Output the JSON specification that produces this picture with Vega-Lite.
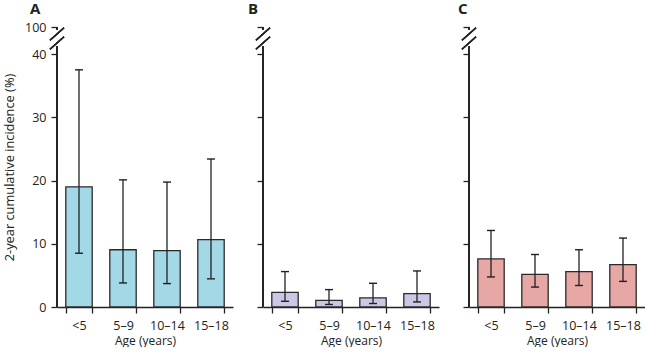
{
  "$schema": "https://vega.github.io/schema/vega-lite/v6.json",
  "padding": {"left": 3, "top": 2, "right": 0, "bottom": 0},
  "config": {
    "view": {"stroke": null},
    "font": "Open Sans",
    "axis": {"labelFont": "Open Sans", "titleFont": "Open Sans", "labelColor": "#222", "titleColor": "#222", "tickColor": "#222", "domainColor": "#222", "grid": false}
  },
  "spacing": 1,
  "hconcat": [
    {
      "title": {"text": "A", "anchor": "start", "frame": "group", "dx": -27, "offset": 4, "fontSize": 15, "fontWeight": "bold", "font": "Open Sans", "color": "#222"},
      "width": 176,
      "height": 280,
      "data": {"values": [
        {"age": "<5", "value": 19.0, "lo": 8.5, "hi": 37.5},
        {"age": "5–9", "value": 9.05, "lo": 3.8, "hi": 20.1},
        {"age": "10–14", "value": 8.9, "lo": 3.7, "hi": 19.75},
        {"age": "15–18", "value": 10.65, "lo": 4.45, "hi": 23.4}
      ]},
      "layer": [
        {
          "encoding": {
            "x": {"field": "age", "type": "nominal", "sort": ["<5", "5–9", "10–14", "15–18"], "scale": {"paddingInner": 0.4, "paddingOuter": 0.2},
              "axis": {"title": "Age (years)", "titleFontSize": 12, "titleFontWeight": "normal", "titlePadding": 4, "labelFontSize": 12.5, "labelAngle": 0, "labelPadding": 6, "tickBand": "extent", "tickSize": 6, "tickWidth": 1.3, "domainWidth": 1.3}},
            "y": {"field": "value", "type": "quantitative", "scale": {"domain": [0, 40, 100], "range": [280, 27, 0], "nice": false, "zero": false},
              "axis": {"values": [0, 10, 20, 30, 40, 100], "domain": false, "title": "2-year cumulative incidence (%)", "titleFontSize": 12.8, "titleFontWeight": "normal", "titlePadding": 8, "labelFontSize": 12.5, "labelPadding": 5, "tickSize": 6, "tickWidth": 1.3}}
          },
          "layer": [
            {"mark": {"type": "bar", "fill": "#a3d8e7", "stroke": "#2a2a2a", "strokeWidth": 1.3}},
            {"mark": {"type": "rule", "color": "#222", "strokeWidth": 1.3}, "encoding": {"y": {"field": "lo", "type": "quantitative"}, "y2": {"field": "hi"}}},
            {"mark": {"type": "tick", "color": "#222", "thickness": 1.4, "size": 8, "opacity": 1}, "encoding": {"y": {"field": "lo", "type": "quantitative"}}},
            {"mark": {"type": "tick", "color": "#222", "thickness": 1.4, "size": 8, "opacity": 1}, "encoding": {"y": {"field": "hi", "type": "quantitative"}}}
          ]
        },
        {
          "encoding": {
            "x": {"datum": 0, "type": "quantitative", "scale": {"domain": [0, 1]}, "axis": null}
          },
          "layer": [
            {"mark": {"type": "rule", "color": "#222", "strokeWidth": 1.3}, "encoding": {"y": {"datum": 0, "type": "quantitative"}, "y2": {"datum": 57.8}}},
            {"mark": {"type": "rule", "color": "#222", "strokeWidth": 1.3}, "encoding": {"y": {"datum": 93.3, "type": "quantitative"}, "y2": {"datum": 100}}},
            {"mark": {"type": "point", "shape": "M-1,0.9L1,-0.9", "size": 196, "filled": false, "stroke": "#222", "strokeWidth": 1.3, "opacity": 1}, "encoding": {"y": {"datum": 84.4, "type": "quantitative"}}},
            {"mark": {"type": "point", "shape": "M-1,0.9L1,-0.9", "size": 196, "filled": false, "stroke": "#222", "strokeWidth": 1.3, "opacity": 1}, "encoding": {"y": {"datum": 64.4, "type": "quantitative"}}}
          ]
        }
      ],
      "resolve": {"scale": {"x": "independent"}, "axis": {"x": "independent"}}
    },
    {
      "title": {"text": "B", "anchor": "start", "frame": "group", "dx": -15, "offset": 4, "fontSize": 15, "fontWeight": "bold", "font": "Open Sans", "color": "#222"},
      "width": 176,
      "height": 280,
      "data": {"values": [
        {"age": "<5", "value": 2.3, "lo": 0.9, "hi": 5.6},
        {"age": "5–9", "value": 1.05, "lo": 0.4, "hi": 2.75},
        {"age": "10–14", "value": 1.45, "lo": 0.55, "hi": 3.75},
        {"age": "15–18", "value": 2.1, "lo": 0.8, "hi": 5.7}
      ]},
      "layer": [
        {
          "encoding": {
            "x": {"field": "age", "type": "nominal", "sort": ["<5", "5–9", "10–14", "15–18"], "scale": {"paddingInner": 0.4, "paddingOuter": 0.2},
              "axis": {"title": "Age (years)", "titleFontSize": 12, "titleFontWeight": "normal", "titlePadding": 4, "labelFontSize": 12.5, "labelAngle": 0, "labelPadding": 6, "tickBand": "extent", "tickSize": 6, "tickWidth": 1.3, "domainWidth": 1.3}},
            "y": {"field": "value", "type": "quantitative", "scale": {"domain": [0, 40, 100], "range": [280, 27, 0], "nice": false, "zero": false},
              "axis": {"values": [0, 10, 20, 30, 40, 100], "domain": false, "title": null, "labelOpacity": 0, "labelFontSize": 12.5, "labelPadding": 1, "tickSize": 6, "tickWidth": 1.3}}
          },
          "layer": [
            {"mark": {"type": "bar", "fill": "#cec6e5", "stroke": "#2a2a2a", "strokeWidth": 1.3}},
            {"mark": {"type": "rule", "color": "#222", "strokeWidth": 1.3}, "encoding": {"y": {"field": "lo", "type": "quantitative"}, "y2": {"field": "hi"}}},
            {"mark": {"type": "tick", "color": "#222", "thickness": 1.4, "size": 8, "opacity": 1}, "encoding": {"y": {"field": "lo", "type": "quantitative"}}},
            {"mark": {"type": "tick", "color": "#222", "thickness": 1.4, "size": 8, "opacity": 1}, "encoding": {"y": {"field": "hi", "type": "quantitative"}}}
          ]
        },
        {
          "encoding": {
            "x": {"datum": 0, "type": "quantitative", "scale": {"domain": [0, 1]}, "axis": null}
          },
          "layer": [
            {"mark": {"type": "rule", "color": "#222", "strokeWidth": 1.3}, "encoding": {"y": {"datum": 0, "type": "quantitative"}, "y2": {"datum": 57.8}}},
            {"mark": {"type": "rule", "color": "#222", "strokeWidth": 1.3}, "encoding": {"y": {"datum": 93.3, "type": "quantitative"}, "y2": {"datum": 100}}},
            {"mark": {"type": "point", "shape": "M-1,0.9L1,-0.9", "size": 196, "filled": false, "stroke": "#222", "strokeWidth": 1.3, "opacity": 1}, "encoding": {"y": {"datum": 84.4, "type": "quantitative"}}},
            {"mark": {"type": "point", "shape": "M-1,0.9L1,-0.9", "size": 196, "filled": false, "stroke": "#222", "strokeWidth": 1.3, "opacity": 1}, "encoding": {"y": {"datum": 64.4, "type": "quantitative"}}}
          ]
        }
      ],
      "resolve": {"scale": {"x": "independent"}, "axis": {"x": "independent"}}
    },
    {
      "title": {"text": "C", "anchor": "start", "frame": "group", "dx": -11, "offset": 4, "fontSize": 15, "fontWeight": "bold", "font": "Open Sans", "color": "#222"},
      "width": 176,
      "height": 280,
      "data": {"values": [
        {"age": "<5", "value": 7.6, "lo": 4.75, "hi": 12.1},
        {"age": "5–9", "value": 5.15, "lo": 3.15, "hi": 8.3},
        {"age": "10–14", "value": 5.6, "lo": 3.4, "hi": 9.05},
        {"age": "15–18", "value": 6.7, "lo": 4.05, "hi": 10.9}
      ]},
      "layer": [
        {
          "encoding": {
            "x": {"field": "age", "type": "nominal", "sort": ["<5", "5–9", "10–14", "15–18"], "scale": {"paddingInner": 0.4, "paddingOuter": 0.2},
              "axis": {"title": "Age (years)", "titleFontSize": 12, "titleFontWeight": "normal", "titlePadding": 4, "labelFontSize": 12.5, "labelAngle": 0, "labelPadding": 6, "tickBand": "extent", "tickSize": 6, "tickWidth": 1.3, "domainWidth": 1.3}},
            "y": {"field": "value", "type": "quantitative", "scale": {"domain": [0, 40, 100], "range": [280, 27, 0], "nice": false, "zero": false},
              "axis": {"values": [0, 10, 20, 30, 40, 100], "domain": false, "title": null, "labelOpacity": 0, "labelFontSize": 12.5, "labelPadding": 1, "tickSize": 6, "tickWidth": 1.3}}
          },
          "layer": [
            {"mark": {"type": "bar", "fill": "#e6a7a5", "stroke": "#2a2a2a", "strokeWidth": 1.3}},
            {"mark": {"type": "rule", "color": "#222", "strokeWidth": 1.3}, "encoding": {"y": {"field": "lo", "type": "quantitative"}, "y2": {"field": "hi"}}},
            {"mark": {"type": "tick", "color": "#222", "thickness": 1.4, "size": 8, "opacity": 1}, "encoding": {"y": {"field": "lo", "type": "quantitative"}}},
            {"mark": {"type": "tick", "color": "#222", "thickness": 1.4, "size": 8, "opacity": 1}, "encoding": {"y": {"field": "hi", "type": "quantitative"}}}
          ]
        },
        {
          "encoding": {
            "x": {"datum": 0, "type": "quantitative", "scale": {"domain": [0, 1]}, "axis": null}
          },
          "layer": [
            {"mark": {"type": "rule", "color": "#222", "strokeWidth": 1.3}, "encoding": {"y": {"datum": 0, "type": "quantitative"}, "y2": {"datum": 57.8}}},
            {"mark": {"type": "rule", "color": "#222", "strokeWidth": 1.3}, "encoding": {"y": {"datum": 93.3, "type": "quantitative"}, "y2": {"datum": 100}}},
            {"mark": {"type": "point", "shape": "M-1,0.9L1,-0.9", "size": 196, "filled": false, "stroke": "#222", "strokeWidth": 1.3, "opacity": 1}, "encoding": {"y": {"datum": 84.4, "type": "quantitative"}}},
            {"mark": {"type": "point", "shape": "M-1,0.9L1,-0.9", "size": 196, "filled": false, "stroke": "#222", "strokeWidth": 1.3, "opacity": 1}, "encoding": {"y": {"datum": 64.4, "type": "quantitative"}}}
          ]
        }
      ],
      "resolve": {"scale": {"x": "independent"}, "axis": {"x": "independent"}}
    }
  ]
}
